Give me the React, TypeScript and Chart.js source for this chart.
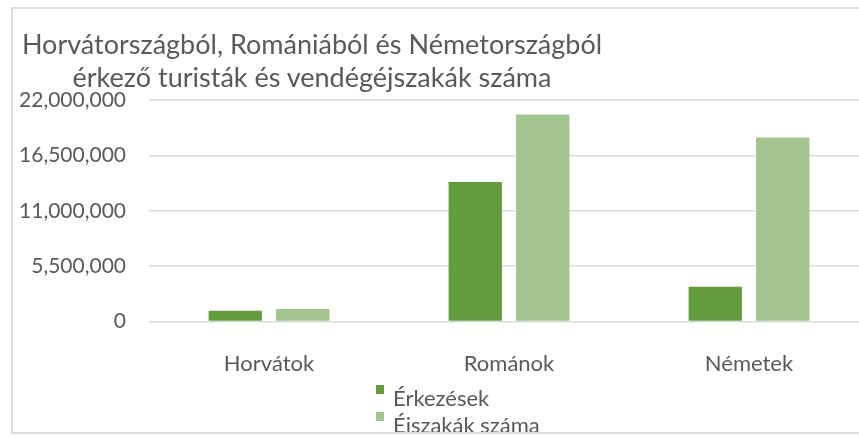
import React, { useEffect, useRef } from "react";
import { Chart, registerables } from "chart.js";

Chart.register(...registerables);

const categories = ["Horvátok", "Románok", "Németek"];
const arrivals = [1080000, 13850000, 3470000];
const nights = [1250000, 20550000, 18280000];
const seriesNames = ["Érkezések", "Éiszakák száma"];
const titleLines = [
  "Horvátországból, Romániából és Németországból",
  "érkező turisták és vendégéjszakák száma",
];
const yMax = 22000000;
const yStep = 5500000;

const DARK = "#639c3c";
const LIGHT = "#a2c48f";
const TEXT = "#595959";
const FONT = "Lato";

export default function App() {
  const ref = useRef<HTMLCanvasElement | null>(null);

  useEffect(() => {
    document.body.style.margin = "0";
    document.body.style.overflow = "hidden";
    const ctx = ref.current;
    if (!ctx) return;
    const chart = new Chart(ctx, {
      type: "bar",
      data: {
        labels: categories,
        datasets: [
          { label: seriesNames[0], data: arrivals, backgroundColor: DARK },
          { label: seriesNames[1], data: nights, backgroundColor: LIGHT },
        ],
      },
      options: {
        animation: false,
        responsive: false,
        maintainAspectRatio: false,
        layout: { padding: { top: 100, bottom: 31, left: 0, right: 1 } },
        datasets: {
          bar: { categoryPercentage: 0.5625, barPercentage: 0.79 },
        },
        plugins: {
          legend: { display: false },
          title: { display: false },
          tooltip: { enabled: false },
        },
        scales: {
          x: {
            grid: { display: false, drawTicks: false },
            border: { display: false },
            ticks: {
              color: TEXT,
              padding: 29,
              font: { family: FONT, size: 22 },
            },
          },
          y: {
            min: 0,
            max: yMax,
            grid: { color: "#d9d9d9", lineWidth: 1.5, drawTicks: false },
            border: { display: false },
            afterFit: (scale: any) => {
              scale.width = 149;
            },
            ticks: {
              stepSize: yStep,
              color: TEXT,
              padding: 23,
              font: { family: FONT, size: 21 },
              callback: (v: any) => Number(v).toLocaleString("en-US"),
            },
          },
        },
      },
    });
    return () => chart.destroy();
  }, []);

  return (
    <div
      style={{
        position: "relative",
        width: 859,
        height: 437,
        overflow: "hidden",
        background: "#fff",
      }}
    >
      <canvas
        ref={ref}
        width={870}
        height={437}
        style={{ position: "absolute", left: 0, top: 0, width: 870, height: 437 }}
      />
      <div
        style={{
          position: "absolute",
          left: 12,
          top: 27,
          width: 600,
          textAlign: "center",
          fontFamily: FONT,
          fontSize: 27,
          lineHeight: "33px",
          color: TEXT,
          whiteSpace: "nowrap",
        }}
      >
        {titleLines.map((t, i) => (
          <div key={i}>{t}</div>
        ))}
      </div>
      <div
        style={{
          position: "absolute",
          left: 376,
          top: 384,
          fontFamily: FONT,
          fontSize: 22,
          color: TEXT,
          whiteSpace: "nowrap",
        }}
      >
        {seriesNames.map((n, i) => (
          <div key={i} style={{ position: "relative", height: 27, lineHeight: "27px" }}>
            <span
              style={{
                position: "absolute",
                left: 0,
                top: 1,
                width: 8,
                height: 9,
                background: i === 0 ? DARK : LIGHT,
              }}
            />
            <span style={{ position: "absolute", left: 17, top: 0 }}>{n}</span>
          </div>
        ))}
      </div>
      <div
        style={{
          position: "absolute",
          left: 11,
          top: 7,
          width: 900,
          height: 423,
          border: "2px solid #dedede",
          pointerEvents: "none",
        }}
      />
    </div>
  );
}
